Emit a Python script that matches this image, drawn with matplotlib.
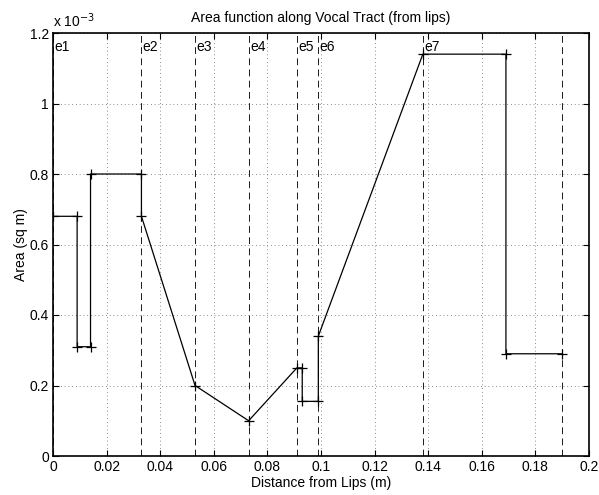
#!/usr/bin/env python3
"""
Area function along the vocal tract, measured from the lips.
"""

import matplotlib
matplotlib.use('Agg')
import matplotlib.pyplot as plt
from matplotlib.ticker import FuncFormatter, MultipleLocator

# Tract profile vertices (distance from lips in m, area in sq m)
dist = [0.0, 0.009, 0.009, 0.014, 0.014, 0.033, 0.033, 0.053, 0.073,
        0.091, 0.093, 0.093, 0.099, 0.099, 0.138, 0.169, 0.169, 0.190]
area = [0.68e-3, 0.68e-3, 0.31e-3, 0.31e-3, 0.80e-3, 0.80e-3, 0.68e-3,
        0.20e-3, 0.10e-3, 0.25e-3, 0.25e-3, 0.155e-3, 0.155e-3, 0.34e-3,
        1.14e-3, 1.14e-3, 0.29e-3, 0.29e-3]

# Element boundaries (dashed markers) and their names
edges = [0.0, 0.033, 0.053, 0.073, 0.091, 0.099, 0.138, 0.190]
edge_names = ['e1', 'e2', 'e3', 'e4', 'e5', 'e6', 'e7', '']

plt.rcParams['font.family'] = ['Liberation Sans', 'DejaVu Sans']
plt.rcParams['font.size'] = 10

fig = plt.figure(figsize=(5.99, 4.95), dpi=100)
ax = fig.add_axes([53 / 599, 1 - 456 / 495, 536 / 599, 423 / 495])

# grid first so everything else sits on top
ax.grid(True, color='0.4', linestyle=(0, (1, 3.5)), linewidth=0.6)
ax.set_axisbelow(True)

for x, name in zip(edges, edge_names):
    ax.axvline(x, color='0.1', linestyle=(0, (7, 4.5)), linewidth=0.7)
    if name:
        ax.text(x + 0.0005, 1.16e-3, name, ha='left', va='center', fontsize=10)

ax.plot(dist, area, color='black', linewidth=0.9, marker='+',
        markersize=6.5, markeredgewidth=0.9)

ax.set_xlim(0, 0.2)
ax.set_ylim(0, 1.2e-3)
ax.xaxis.set_major_locator(MultipleLocator(0.02))
ax.yaxis.set_major_locator(MultipleLocator(0.2e-3))
ax.xaxis.set_major_formatter(FuncFormatter(lambda v, p: '%g' % round(v, 6)))
ax.yaxis.set_major_formatter(FuncFormatter(lambda v, p: '%g' % round(v * 1e3, 6)))
ax.tick_params(direction='in', length=4, width=0.8, top=True, right=True,
               labelsize=10, pad=3)
for s in ax.spines.values():
    s.set_linewidth(1.2)

ax.text(0.0, 1.006, r'x 10$^{-3}$', transform=ax.transAxes, ha='left',
        va='bottom', fontsize=10)
ax.set_title('Area function along Vocal Tract (from lips)', fontsize=10, pad=8)
ax.set_xlabel('Distance from Lips (m)', fontsize=10, labelpad=1)
ax.set_ylabel('Area (sq m)', fontsize=10, labelpad=1)

plt.savefig('out.png', dpi=100)
